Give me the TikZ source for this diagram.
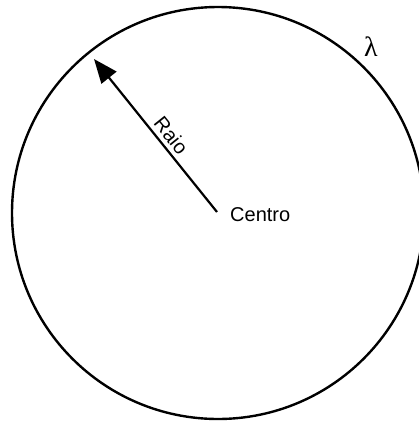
\documentclass[tikz,border=0pt]{standalone}
\usepackage{fontspec}
\setmainfont{Liberation Sans}
\newfontfamily\lamfont{Liberation Serif}
\usetikzlibrary{arrows.meta}
\begin{document}
\begin{tikzpicture}[x=1pt,y=-1pt,
  circ/.style={line width=2.4pt},
  radius arrow/.style={line width=2.2pt,-{Triangle[length=24pt,width=19pt]}},
  lbl/.style={font=\fontsize{20}{22}\selectfont,inner sep=0pt}]
\useasboundingbox (0,0) rectangle (419,421);
\clip (0,0) rectangle (419,421);
\fill[white] (0,0) rectangle (419,421);
\coordinate (c) at (218,213);
\draw[circ] (c) circle[radius=206];
\coordinate (ctr) at (217,212);
\coordinate (tip) at (94,59);
\draw[radius arrow] (ctr) -- (tip) node[pos=0.45,above,sloped,lbl,yshift=4pt] (raio) {Raio};
\node[lbl,anchor=west] (centro) at (230,215) {Centro};
\node[inner sep=0pt,font=\lamfont\fontsize{28}{30}\selectfont] (lam) at (371,47) {λ};
\end{tikzpicture}
\end{document}
